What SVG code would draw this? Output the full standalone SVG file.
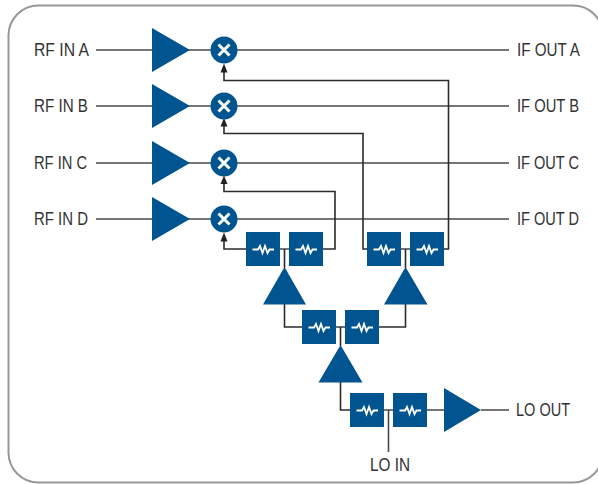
<svg xmlns="http://www.w3.org/2000/svg" width="598" height="484" viewBox="0 0 598 484">
<style>
.b{fill:#00548f}
.w{fill:none;stroke:#4a4a4a;stroke-width:1.6}
.d{fill:none;stroke:#2b2b2b;stroke-width:1.6}
.r{fill:none;stroke:#fff;stroke-width:1.8}
.x{fill:none;stroke:#fff;stroke-width:3}
text{font-family:"Liberation Sans",Arial,sans-serif;font-size:17.5px;fill:#333}
</style>
<defs>
<g id="res"><rect class="b" width="34" height="34"/><path class="r" d="M6.500 17.500H12L14 14L16.500 21L19 14L21.500 21L23.500 17.500H28"/></g>
<g id="mix"><circle class="b" r="13.500"/><path class="x" d="M-5.500-5.500L5.500 5.500M5.500-5.500L-5.500 5.500"/></g>
</defs>
<rect x="8.500" y="5.500" width="594.500" height="477" rx="30" ry="30" fill="#fff" stroke="#98989a" stroke-width="2"/>
<g id="connectors">
<path class="w" d="M96 50H509M96 106H509M96 163H509M96 219H509"/>
<path class="d" d="M224 72V80.500H448.500V249H444"/>
<path class="d" d="M224 125V133.500H363V249H367"/>
<path class="d" d="M224 183V191.500H335V249H323"/>
<path class="d" d="M246 249H224V241"/>
<path class="w" d="M280 249H289M410 249H401"/>
<path class="d" d="M284.500 249V268M405.500 249V268"/>
<path class="d" d="M284.500 304V327H302M405.500 304V327H379"/>
<path class="w" d="M336 327H345"/>
<path class="d" d="M340.500 327V346"/>
<path class="d" d="M340.500 382V410H350"/>
<path class="w" d="M384 410H393M427 410H444M481 410H509M388.500 410V452"/>
<path d="M224 63.500L227.500 72.500H220.500ZM224 118L227.500 126.500H220.500ZM224 175.500L227.500 184H220.500ZM224 232.500L227.500 241.500H220.500Z" fill="#222"/>
</g>
<g id="amp-a"><path class="b" d="M152 28L190 50L152 72Z"/></g>
<g id="amp-b"><path class="b" d="M152 84L190 106L152 128Z"/></g>
<g id="amp-c"><path class="b" d="M152 141L190 163L152 185Z"/></g>
<g id="amp-d"><path class="b" d="M152 197L190 219L152 241Z"/></g>
<g id="mix-a"><use href="#mix" x="224" y="50"/></g>
<g id="mix-b"><use href="#mix" x="224" y="106"/></g>
<g id="mix-c"><use href="#mix" x="224" y="163"/></g>
<g id="mix-d"><use href="#mix" x="224" y="219"/></g>
<g id="res-1"><use href="#res" x="246" y="232"/></g>
<g id="res-2"><use href="#res" x="289" y="232"/></g>
<g id="res-3"><use href="#res" x="367" y="232"/></g>
<g id="res-4"><use href="#res" x="410" y="232"/></g>
<g id="res-5"><use href="#res" x="302" y="310"/></g>
<g id="res-6"><use href="#res" x="345" y="310"/></g>
<g id="res-7"><use href="#res" x="350" y="393"/></g>
<g id="res-8"><use href="#res" x="393" y="393"/></g>
<g id="amp-lo1"><path class="b" d="M284.500 267L306 304.500H263Z"/></g>
<g id="amp-lo2"><path class="b" d="M405.500 267L427.500 304.500H384Z"/></g>
<g id="amp-lo3"><path class="b" d="M340.500 345L362.500 382.500H318.500Z"/></g>
<g id="amp-lo4"><path class="b" d="M444 388L481 410L444 432Z"/></g>
<g id="labels">
<text x="34" y="56" textLength="55" lengthAdjust="spacingAndGlyphs">RF IN A</text>
<text x="34" y="112" textLength="54" lengthAdjust="spacingAndGlyphs">RF IN B</text>
<text x="34" y="169" textLength="53" lengthAdjust="spacingAndGlyphs">RF IN C</text>
<text x="34" y="225" textLength="54" lengthAdjust="spacingAndGlyphs">RF IN D</text>
<text x="517" y="56" textLength="63" lengthAdjust="spacingAndGlyphs">IF OUT A</text>
<text x="517" y="112" textLength="62" lengthAdjust="spacingAndGlyphs">IF OUT B</text>
<text x="517" y="169" textLength="62" lengthAdjust="spacingAndGlyphs">IF OUT C</text>
<text x="517" y="225" textLength="62" lengthAdjust="spacingAndGlyphs">IF OUT D</text>
<text x="516" y="415.500" textLength="54" lengthAdjust="spacingAndGlyphs">LO OUT</text>
<text x="370" y="470.500" textLength="40" lengthAdjust="spacingAndGlyphs">LO IN</text>
</g>
</svg>
